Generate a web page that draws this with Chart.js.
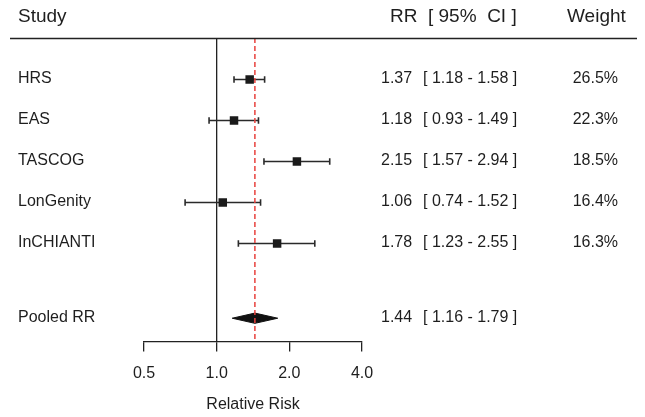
<!DOCTYPE html>
<html>
<head>
<meta charset="utf-8">
<script src="https://cdn.jsdelivr.net/npm/chart.js@4/dist/chart.umd.min.js"></script>
<style>
  html, body { margin: 0; padding: 0; background: #ffffff; }
  #wrap { width: 645px; height: 417px; }
</style>
</head>
<body>
<div id="wrap"><canvas id="c" width="645" height="417"></canvas></div>
<script>
// ---- data ----
const studies   = ['HRS', 'EAS', 'TASCOG', 'LonGenity', 'InCHIANTI'];
const rr        = [1.37, 1.18, 2.15, 1.06, 1.78];
const lower     = [1.18, 0.93, 1.57, 0.74, 1.23];
const upper     = [1.58, 1.49, 2.94, 1.52, 2.55];
const weights   = ['26.5%', '22.3%', '18.5%', '16.4%', '16.3%'];
const pooledLabel = 'Pooled RR';
const pooledRR    = [1.44];
const pooledLower = [1.16];
const pooledUpper = [1.79];
const xTicks    = [0.5, 1.0, 2.0, 4.0];
const headers   = ['Study', 'RR', '[ 95%  CI ]', 'Weight'];
const xTitle    = 'Relative Risk';

// row positions (y-scale units)
const rowY    = studies.map((_, i) => i + 1);
const pooledY = 6.82;
const yMin = -0.01, yMax = 7.39;

const FONT = "'Liberation Sans', Arial, Helvetica, sans-serif";
const TXT = '#1e1e1e';
const fmt = v => v.toFixed(2);

const datasets = [];
// red dashed pooled reference line (on top)
datasets.push({
  type: 'line', data: [{x: pooledRR[0], y: yMin}, {x: pooledRR[0], y: yMax}],
  borderColor: 'rgb(232,64,60)', borderWidth: 1.5, borderDash: [5, 3],
  pointRadius: 0, fill: false
});
// point estimates (squares)
datasets.push({
  type: 'scatter', data: rr.map((v, i) => ({x: v, y: rowY[i]})),
  pointStyle: 'rect', pointRadius: 6, backgroundColor: '#1a1a1a', borderColor: '#1a1a1a', borderWidth: 0
});
// CIs with caps
studies.forEach((s, i) => {
  datasets.push({
    type: 'line', data: [{x: lower[i], y: rowY[i]}, {x: upper[i], y: rowY[i]}],
    borderColor: '#2a2a2a', borderWidth: 1.4,
    pointStyle: 'line', rotation: 90, pointRadius: 3.2,
    pointBorderColor: '#2a2a2a', pointBorderWidth: 1.6, fill: false
  });
});
// pooled diamond
const dh = 0.125;
datasets.push({
  type: 'line',
  data: [
    {x: pooledLower[0], y: pooledY}, {x: pooledRR[0], y: pooledY - dh},
    {x: pooledUpper[0], y: pooledY}, {x: pooledRR[0], y: pooledY + dh},
    {x: pooledLower[0], y: pooledY}
  ],
  borderColor: '#111111', backgroundColor: '#111111', borderWidth: 1,
  pointRadius: 0, fill: 'shape', tension: 0
});
// null line at RR = 1
datasets.push({
  type: 'line', data: [{x: 1, y: yMin}, {x: 1, y: yMax}],
  borderColor: '#222222', borderWidth: 1.3, pointRadius: 0, fill: false
});

const textPlugin = {
  id: 'forestText',
  beforeDraw(chart) {
    const ctx = chart.ctx;
    ctx.save();
    ctx.fillStyle = '#ffffff';
    ctx.fillRect(0, 0, chart.width, chart.height);
    ctx.restore();
  },
  afterDraw(chart) {
    const ctx = chart.ctx;
    const ys = chart.scales.y;
    const top = chart.chartArea.top;
    ctx.save();
    // header rule
    ctx.strokeStyle = '#222222';
    ctx.lineWidth = 1.3;
    ctx.beginPath();
    ctx.moveTo(10, top + 0.5);
    ctx.lineTo(637, top + 0.5);
    ctx.stroke();
    // headers
    ctx.fillStyle = TXT;
    ctx.textBaseline = 'middle';
    ctx.font = '19px ' + FONT;
    ctx.textAlign = 'left';
    ctx.fillText(headers[0], 18, 17);
    ctx.fillText(headers[1], 390, 17);
    ctx.fillText(headers[2], 428, 17);
    ctx.fillText(headers[3], 567, 17);
    // rows
    ctx.font = '16px ' + FONT;
    const drawRow = (label, est, lo, hi, w, yv) => {
      const py = ys.getPixelForValue(yv) - 1;
      ctx.textAlign = 'left';
      ctx.fillText(label, 18, py);
      ctx.fillText(fmt(est), 381, py);
      ctx.fillText('[ ' + fmt(lo) + ' - ' + fmt(hi) + ' ]', 423, py);
      if (w) { ctx.textAlign = 'right'; ctx.fillText(w, 618, py); }
    };
    studies.forEach((s, i) => drawRow(s, rr[i], lower[i], upper[i], weights[i], rowY[i]));
    drawRow(pooledLabel, pooledRR[0], pooledLower[0], pooledUpper[0], null, pooledY);
    ctx.restore();
  }
};

new Chart(document.getElementById('c'), {
  type: 'scatter',
  data: { datasets },
  options: {
    responsive: false,
    animation: false,
    events: [],
    layout: { padding: { left: 144, right: 283, top: 38, bottom: 0 } },
    plugins: { legend: { display: false }, tooltip: { enabled: false } },
    scales: {
      x: {
        type: 'logarithmic', min: 0.5, max: 4,
        afterBuildTicks: (scale) => { scale.ticks = xTicks.map(v => ({value: v})); },
        ticks: {
          callback: (v) => Number(v).toFixed(1),
          color: TXT, font: { family: FONT, size: 16 }, padding: 12, autoSkip: false, maxRotation: 0
        },
        grid: { drawOnChartArea: false, tickLength: 10, color: '#222222', lineWidth: 1.3 },
        border: { display: true, color: '#222222', width: 1.3 },
        title: { display: true, text: xTitle, color: TXT, font: { family: FONT, size: 16 }, padding: { top: 0, bottom: 3 } }
      },
      y: {
        type: 'linear', reverse: true, min: yMin, max: yMax, display: false
      }
    }
  },
  plugins: [textPlugin]
});
</script>
</body>
</html>
